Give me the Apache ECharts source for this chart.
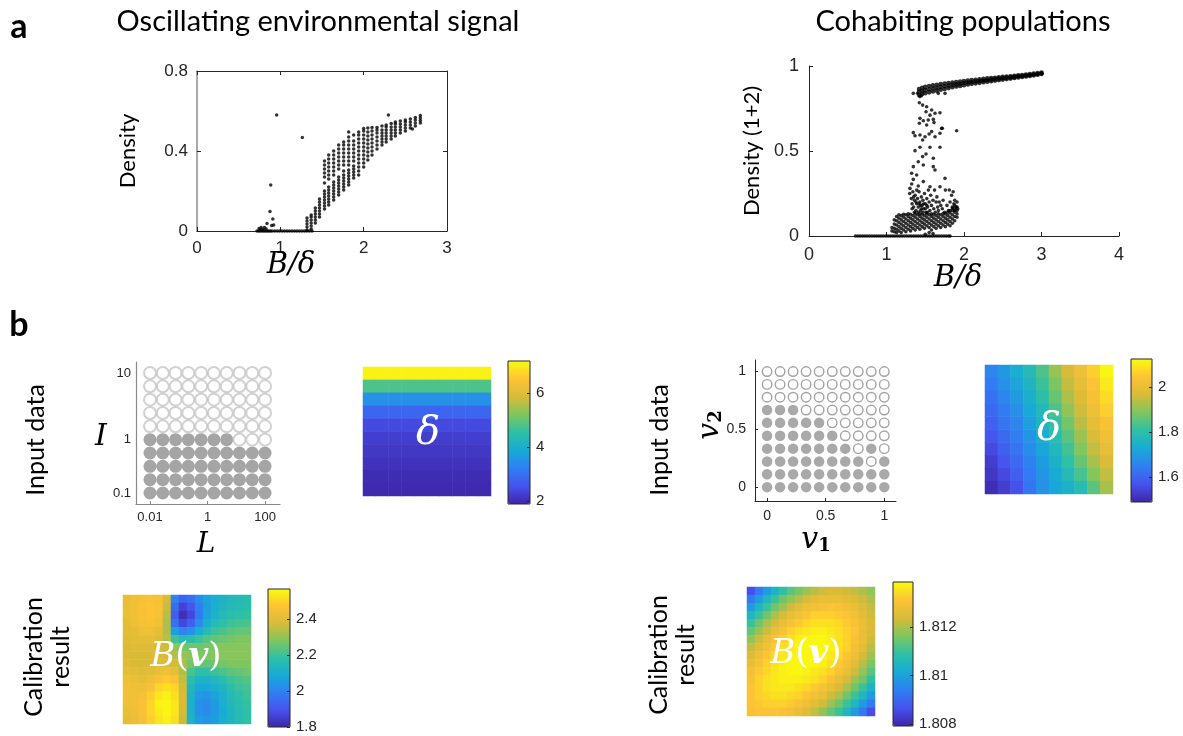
<!DOCTYPE html>
<html><head><meta charset="utf-8">
<script src="https://cdn.jsdelivr.net/npm/echarts@6/dist/echarts.min.js"></script>
<style>html,body{margin:0;padding:0;background:#fff}#c{width:1183px;height:736px}</style>
</head><body><div id="c"></div>
<script>
// ---------------- Panel a (left): oscillating environmental signal ----------------
const leftZeroX = [0.72,0.74,0.76,0.78,0.80,0.82,0.84,0.86,0.88,0.90,0.93,0.96,0.99,1.02,1.05,1.08,1.11,1.14,1.17,1.20,1.23,1.26,1.29,1.32,1.35,1.38];
const leftSparse = [[0.956,0.58],[1.264,0.468],[0.885,0.23],[0.876,0.097],[0.91,0.06],[0.84,0.038],[0.92,0.03],[0.745,0.012],[0.77,0.018],[0.81,0.018],[0.83,0.01],[0.896,0.027],[2.297,0.58],[2.585,0.51],[0.76,0.006],[0.79,0.008]];
const leftStreakX = [1.32,1.37,1.42,1.47,1.53,1.58,1.64,1.70,1.76,1.82,1.88,1.94,2.00,2.05,2.10,2.16,2.22,2.27,2.33,2.38,2.44,2.50,2.56,2.62,2.68];
const leftStreakY = [
  [0.005,0.02,0.035,0.05,0.065],
  [0.01,0.025,0.04,0.055,0.07,0.08],
  [0.04,0.055,0.07,0.085,0.1,0.115],
  [0.07,0.085,0.1,0.115,0.13,0.145,0.16],
  [0.11,0.125,0.14,0.155,0.17,0.185,0.2,0.24,0.27,0.29,0.31,0.33,0.35],
  [0.13,0.145,0.16,0.175,0.19,0.205,0.22,0.26,0.28,0.3,0.32,0.34,0.36,0.38],
  [0.155,0.17,0.185,0.2,0.215,0.23,0.245,0.28,0.3,0.32,0.34,0.36,0.38,0.4],
  [0.18,0.195,0.21,0.225,0.24,0.255,0.27,0.31,0.33,0.35,0.37,0.39,0.41,0.43],
  [0.205,0.22,0.235,0.25,0.265,0.28,0.3,0.33,0.35,0.37,0.39,0.41,0.43,0.445],
  [0.23,0.245,0.26,0.275,0.29,0.305,0.33,0.35,0.37,0.39,0.41,0.43,0.45,0.47,0.495],
  [0.265,0.28,0.295,0.31,0.325,0.35,0.37,0.39,0.41,0.43,0.45,0.48],
  [0.28,0.3,0.32,0.34,0.36,0.38,0.4,0.42,0.44,0.46,0.48,0.495],
  [0.32,0.34,0.36,0.38,0.4,0.42,0.44,0.46,0.48,0.5,0.513],
  [0.355,0.375,0.395,0.415,0.435,0.455,0.475,0.495,0.515],
  [0.38,0.4,0.42,0.44,0.46,0.48,0.5,0.518],
  [0.41,0.43,0.45,0.47,0.49,0.505,0.517],
  [0.43,0.445,0.46,0.475,0.49,0.505,0.525],
  [0.445,0.46,0.475,0.49,0.505,0.52,0.53],
  [0.46,0.475,0.49,0.505,0.52,0.538],
  [0.475,0.49,0.505,0.52,0.535,0.545],
  [0.49,0.505,0.52,0.535,0.55],
  [0.5,0.515,0.53,0.545,0.555],
  [0.515,0.53,0.545,0.56],
  [0.525,0.54,0.555,0.567],
  [0.54,0.552,0.565,0.577]
];

// ---------------- Panel a (right): cohabiting populations ----------------
const rightZeroX = [0.6,0.63,0.66,0.69,0.72,0.75,0.78,0.81,0.84,0.87,0.9,0.93,0.96,0.99,1.02,1.05,1.08,1.11,1.14,1.17,1.2,1.23,1.26,1.29,1.32,1.35,1.38,1.41,1.44,1.47,1.5,1.53,1.56,1.59,1.62,1.65,1.68,1.71,1.74,1.77,1.8,1.82];
const bandX   = [1.42,1.46,1.5,1.55,1.6,1.65,1.7,1.75,1.8,1.85,1.9,1.95,2.0,2.05,2.1,2.15,2.2,2.25,2.3,2.35,2.4,2.45,2.5,2.55,2.6,2.65,2.7,2.75,2.8,2.85,2.9,2.95,3.0];
const bandLo  = [0.83,0.835,0.84,0.845,0.85,0.855,0.86,0.865,0.87,0.875,0.879,0.883,0.887,0.891,0.895,0.898,0.901,0.905,0.908,0.911,0.914,0.917,0.92,0.923,0.926,0.929,0.932,0.935,0.938,0.941,0.945,0.949,0.953];
const bandMid = [0.848,0.853,0.858,0.863,0.868,0.872,0.877,0.881,0.885,0.889,0.892,0.896,0.9,0.903,0.906,0.909,0.912,0.915,0.918,0.92,0.923,0.926,0.928,0.931,0.933,0.936,0.939,0.941,0.944,0.947,0.95,0.953,0.957];
const bandHi  = [0.865,0.872,0.877,0.882,0.886,0.89,0.894,0.897,0.9,0.903,0.906,0.909,0.912,0.914,0.917,0.919,0.922,0.924,0.927,0.929,0.931,0.934,0.936,0.938,0.94,0.943,0.945,0.947,0.95,0.952,0.955,0.958,0.961];
const rightSparse = [[1.40,0.84],[1.43,0.82],[1.45,0.825],[1.346,0.839],[1.668,0.839],[1.755,0.839],[1.424,0.784],[1.466,0.77],[1.518,0.76],[1.51,0.731],[1.583,0.741],[1.626,0.722],[1.69,0.725],[1.561,0.711],[1.432,0.692],[1.475,0.678],[1.539,0.682],[1.604,0.686],[1.424,0.663],[1.518,0.653],[1.613,0.667],[1.712,0.633],[1.905,0.619],[1.346,0.608],[1.432,0.594],[1.368,0.59],[1.466,0.565],[1.497,0.584],[1.583,0.614],[1.626,0.584],[1.69,0.604],[1.72,0.634],[1.55,0.6],[1.368,0.502],[1.432,0.522],[1.561,0.522],[1.69,0.522],[1.466,0.467],[1.51,0.482],[1.604,0.457],[1.346,0.408],[1.41,0.437],[1.475,0.418],[1.604,0.408],[1.626,0.388],[1.325,0.369],[1.389,0.359],[1.346,0.333],[1.475,0.32],[1.755,0.339],[1.325,0.306],[1.41,0.294],[1.561,0.29],[1.69,0.29],[1.81,0.271],[1.303,0.28]];
const rightCloud = [[1.30,0.25],[1.32,0.22],[1.33,0.19],[1.34,0.26],[1.35,0.17],[1.36,0.21],[1.37,0.24],[1.38,0.15],[1.39,0.19],[1.40,0.22],[1.41,0.17],[1.42,0.26],[1.43,0.2],[1.44,0.15],[1.45,0.23],[1.46,0.18],[1.47,0.21],[1.48,0.16],[1.49,0.25],[1.5,0.19],[1.51,0.14],[1.52,0.22],[1.53,0.17],[1.54,0.27],[1.55,0.2],[1.56,0.15],[1.57,0.24],[1.58,0.18],[1.6,0.21],[1.61,0.16],[1.62,0.27],[1.63,0.14],[1.64,0.2],[1.65,0.23],[1.66,0.17],[1.67,0.15],[1.68,0.2],[1.7,0.18],[1.72,0.16],[1.73,0.21],[1.75,0.14],[1.76,0.27],[1.78,0.18],[1.8,0.15],[1.82,0.2],[1.84,0.24],[1.85,0.17],[1.87,0.19],[1.88,0.15],[1.9,0.17],[1.91,0.2],[1.92,0.16],[1.88,0.21],[1.86,0.26],[1.33,0.16],[1.36,0.14],[1.39,0.27],[1.41,0.14],[1.44,0.18],[1.47,0.14],[1.5,0.16],[1.53,0.14],[1.35,0.23],[1.38,0.2],[1.42,0.19],[1.45,0.16],[1.48,0.19],[1.52,0.18],[1.5,0.01],[1.6,0.015],[1.55,0.02]];
const fanX = [1.07,1.10,1.13,1.16,1.19,1.22,1.25,1.28,1.31,1.34,1.37,1.40,1.43,1.46,1.49,1.52,1.55,1.58,1.61,1.64,1.67,1.70,1.73,1.76,1.79,1.82,1.85,1.88,1.91];
const fanY = [
  [0.03,0.05],[0.025,0.045,0.07,0.095],[0.02,0.04,0.065,0.09,0.115],[0.03,0.055,0.08,0.105,0.125],
  [0.02,0.045,0.07,0.095,0.12],[0.035,0.06,0.085,0.11,0.128],[0.025,0.05,0.075,0.1,0.125],[0.04,0.065,0.09,0.115,0.13],
  [0.03,0.055,0.08,0.105,0.128],[0.045,0.07,0.095,0.12],[0.035,0.06,0.085,0.11,0.13],[0.05,0.075,0.1,0.125],
  [0.04,0.065,0.09,0.115,0.13],[0.055,0.08,0.105,0.128],[0.045,0.07,0.095,0.12],[0.06,0.085,0.11,0.13],
  [0.05,0.075,0.1,0.125],[0.035,0.065,0.09,0.115,0.13],[0.055,0.08,0.105,0.128],[0.045,0.07,0.095,0.12],
  [0.06,0.085,0.11,0.13],[0.05,0.075,0.1,0.125],[0.065,0.09,0.115,0.132],[0.055,0.08,0.105,0.13],
  [0.07,0.095,0.12,0.14],[0.06,0.085,0.11,0.135,0.15],[0.075,0.1,0.125,0.15,0.165],[0.09,0.115,0.14,0.16,0.18],[0.11,0.13,0.15,0.17]
];

// ---------------- Panel b: input data grids ----------------
const Lvals = [0.01,0.0278,0.0774,0.215,0.599,1.67,4.64,12.9,35.9,100];
const LTicks = [0.01,1,100];
const ILabels = ['0.1','1','10'];
const ITickIdx = [0,4,9];
// rows: I index from bottom (0.1) to top (10); 1 = filled
const leftFill = [
  [1,1,1,1,1,1,1,1,1,1],
  [1,1,1,1,1,1,1,1,1,1],
  [1,1,1,1,1,1,1,1,1,1],
  [1,1,1,1,1,1,1,1,1,1],
  [1,1,1,1,1,1,1,0,0,0],
  [0,0,0,0,0,0,0,0,0,0],
  [0,0,0,0,0,0,0,0,0,0],
  [0,0,0,0,0,0,0,0,0,0],
  [0,0,0,0,0,0,0,0,0,0],
  [0,0,0,0,0,0,0,0,0,0]
];
const v1Vals = [0,0.111,0.222,0.333,0.444,0.556,0.667,0.778,0.889,1];
const v2Vals = [0,0.111,0.222,0.333,0.444,0.556,0.667,0.778,0.889,1];
const vTicks = [0,0.5,1];
// rows: v2 from 0 (bottom) to 1 (top)
const rightFill = [
  [1,1,1,1,1,1,1,1,1,1],
  [1,1,1,1,1,1,1,1,1,1],
  [1,1,1,1,1,1,1,1,0,1],
  [1,1,1,1,1,1,1,0,1,0],
  [1,1,1,1,1,1,0,0,0,0],
  [1,1,1,1,1,0,0,0,0,0],
  [1,1,1,0,0,0,0,0,0,0],
  [0,0,0,0,0,0,0,0,0,0],
  [0,0,0,0,0,0,0,0,0,0],
  [0,0,0,0,0,0,0,0,0,0]
];

// delta maps (rows top -> bottom)
const deltaLeftRows = [7.08,4.8,3.48,2.84,2.42,2.25,2.15,2.06,1.98,1.95];
const deltaLeftRange = [1.89,7.19], deltaLeftTicks = [2,4,6];
const deltaRight = [
  [1.660,1.692,1.737,1.781,1.838,1.908,1.965,2.010,2.061,2.118],
  [1.641,1.680,1.718,1.762,1.819,1.883,1.946,1.997,2.041,2.099],
  [1.622,1.660,1.699,1.743,1.800,1.864,1.927,1.978,2.029,2.080],
  [1.610,1.641,1.680,1.724,1.775,1.838,1.902,1.959,2.010,2.061],
  [1.591,1.629,1.660,1.705,1.756,1.813,1.876,1.940,1.991,2.035],
  [1.572,1.610,1.648,1.686,1.737,1.794,1.851,1.914,1.972,2.016],
  [1.553,1.591,1.629,1.673,1.718,1.768,1.826,1.889,1.946,1.997],
  [1.533,1.572,1.610,1.654,1.699,1.749,1.807,1.864,1.921,1.972],
  [1.521,1.553,1.591,1.641,1.686,1.730,1.781,1.832,1.889,1.946],
  [1.502,1.533,1.565,1.629,1.680,1.718,1.749,1.787,1.851,1.921]
];
const deltaRightRange = [1.489,2.124], deltaRightTicks = [1.6,1.8,2];

// calibration results B(v) (rows top -> bottom)
const calibLeft = [
  [2.42,2.44,2.45,2.46,2.45,2.38,2.0,1.93,1.96,2.02,2.07,2.1,2.12,2.14,2.15,2.16],
  [2.42,2.44,2.46,2.47,2.46,2.36,1.95,1.86,1.9,1.99,2.06,2.1,2.13,2.15,2.16,2.17],
  [2.42,2.44,2.46,2.47,2.45,2.34,1.92,1.82,1.87,1.98,2.07,2.12,2.15,2.17,2.18,2.19],
  [2.41,2.43,2.45,2.46,2.44,2.33,1.96,1.87,1.92,2.02,2.1,2.15,2.18,2.2,2.21,2.22],
  [2.4,2.41,2.43,2.43,2.41,2.33,2.06,2.0,2.03,2.1,2.16,2.2,2.22,2.24,2.25,2.25],
  [2.39,2.4,2.41,2.41,2.39,2.34,2.2,2.16,2.17,2.2,2.23,2.25,2.26,2.27,2.28,2.28],
  [2.38,2.39,2.39,2.39,2.38,2.36,2.3,2.27,2.26,2.26,2.27,2.28,2.29,2.29,2.29,2.29],
  [2.38,2.38,2.38,2.38,2.38,2.37,2.34,2.31,2.29,2.28,2.28,2.29,2.29,2.29,2.29,2.29],
  [2.39,2.38,2.38,2.38,2.39,2.39,2.37,2.32,2.27,2.25,2.25,2.26,2.27,2.28,2.28,2.28],
  [2.41,2.4,2.39,2.4,2.42,2.43,2.41,2.33,2.22,2.18,2.18,2.2,2.22,2.24,2.25,2.26],
  [2.43,2.42,2.41,2.43,2.46,2.48,2.46,2.35,2.17,2.12,2.12,2.14,2.17,2.2,2.22,2.23],
  [2.44,2.43,2.43,2.46,2.5,2.52,2.5,2.37,2.14,2.08,2.08,2.1,2.13,2.17,2.2,2.21],
  [2.44,2.44,2.45,2.49,2.53,2.55,2.52,2.38,2.12,2.05,2.04,2.07,2.11,2.15,2.18,2.2],
  [2.43,2.44,2.46,2.5,2.55,2.56,2.53,2.38,2.11,2.03,2.02,2.05,2.1,2.14,2.17,2.19],
  [2.42,2.43,2.46,2.5,2.54,2.56,2.53,2.37,2.11,2.03,2.02,2.05,2.09,2.13,2.16,2.18],
  [2.41,2.42,2.45,2.49,2.53,2.55,2.52,2.36,2.12,2.05,2.04,2.06,2.1,2.13,2.16,2.18]
];
const calibLeftRange = [1.8,2.567], calibLeftTicks = [1.8,2,2.2,2.4];
const calibRight = [
  [1.8086,1.8093,1.8099,1.8104,1.8109,1.8113,1.8116,1.8119,1.8121,1.8123,1.8124,1.8124,1.8123,1.8122,1.8120,1.8118],
  [1.8093,1.8099,1.8105,1.8110,1.8115,1.8118,1.8121,1.8124,1.8126,1.8127,1.8127,1.8127,1.8126,1.8125,1.8123,1.8120],
  [1.8099,1.8105,1.8110,1.8115,1.8119,1.8123,1.8126,1.8128,1.8129,1.8130,1.8131,1.8130,1.8129,1.8127,1.8125,1.8122],
  [1.8105,1.8110,1.8115,1.8120,1.8124,1.8127,1.8129,1.8131,1.8133,1.8133,1.8133,1.8132,1.8131,1.8129,1.8126,1.8123],
  [1.8110,1.8115,1.8120,1.8124,1.8127,1.8130,1.8132,1.8134,1.8135,1.8135,1.8135,1.8134,1.8132,1.8130,1.8127,1.8124],
  [1.8114,1.8119,1.8123,1.8127,1.8130,1.8133,1.8135,1.8136,1.8137,1.8137,1.8136,1.8135,1.8133,1.8131,1.8127,1.8124],
  [1.8118,1.8123,1.8127,1.8130,1.8133,1.8135,1.8137,1.8138,1.8138,1.8138,1.8137,1.8135,1.8133,1.8130,1.8127,1.8123],
  [1.8122,1.8126,1.8129,1.8132,1.8135,1.8136,1.8138,1.8138,1.8138,1.8138,1.8137,1.8135,1.8133,1.8129,1.8126,1.8121],
  [1.8125,1.8128,1.8131,1.8134,1.8136,1.8137,1.8138,1.8138,1.8138,1.8138,1.8136,1.8134,1.8131,1.8128,1.8124,1.8119],
  [1.8127,1.8130,1.8133,1.8135,1.8137,1.8138,1.8138,1.8138,1.8138,1.8137,1.8135,1.8132,1.8129,1.8126,1.8121,1.8116],
  [1.8129,1.8132,1.8134,1.8136,1.8137,1.8138,1.8138,1.8137,1.8136,1.8135,1.8133,1.8130,1.8127,1.8123,1.8118,1.8113],
  [1.8130,1.8133,1.8135,1.8136,1.8137,1.8137,1.8137,1.8136,1.8135,1.8133,1.8130,1.8127,1.8124,1.8119,1.8115,1.8109],
  [1.8131,1.8133,1.8135,1.8136,1.8136,1.8136,1.8135,1.8134,1.8132,1.8130,1.8127,1.8124,1.8120,1.8115,1.8110,1.8104],
  [1.8131,1.8133,1.8134,1.8135,1.8135,1.8134,1.8133,1.8131,1.8129,1.8127,1.8123,1.8120,1.8115,1.8110,1.8105,1.8099],
  [1.8131,1.8132,1.8133,1.8133,1.8133,1.8132,1.8130,1.8128,1.8126,1.8123,1.8119,1.8115,1.8110,1.8105,1.8099,1.8093],
  [1.8130,1.8131,1.8131,1.8131,1.8130,1.8129,1.8127,1.8125,1.8122,1.8118,1.8114,1.8110,1.8105,1.8099,1.8093,1.8086]
];
const calibRightRange = [1.80792,1.81386], calibRightTicks = [1.808,1.81,1.812];

// ---------------- build ----------------
const PARULA = ['#3e26a8','#4653ee','#307ff2','#17abd6','#2ec0a5','#7ec660','#d8bb38','#fdc336','#f9fb0e'];
const DARK = '#262626';
const SANS = '"Liberation Sans", Arial, sans-serif';
const CAL = 'Lato, "Open Sans", sans-serif';
const MATH = '"DejaVu Serif", serif';

const leftPts = [];
leftZeroX.forEach(x => leftPts.push([x, 0]));
leftStreakX.forEach((x, i) => leftStreakY[i].forEach(y => leftPts.push([x, y])));
leftSparse.forEach(p => leftPts.push(p));

const rightPts = [];
rightZeroX.forEach(x => rightPts.push([x, 0]));
fanX.forEach((x, i) => fanY[i].forEach(y => rightPts.push([x, y])));
rightSparse.forEach(p => rightPts.push(p));
rightCloud.forEach(p => rightPts.push(p));
const bandPts = [];
bandX.forEach((x, i) => { bandPts.push([x, bandLo[i]]); bandPts.push([x, bandMid[i]]); bandPts.push([x, bandHi[i]]); });

const leftOn = [], leftOff = [];
leftFill.forEach((row, r) => row.forEach((f, c) => (f ? leftOn : leftOff).push([Math.log10(Lvals[c]), r])));
const rightOn = [], rightOff = [];
rightFill.forEach((row, r) => row.forEach((f, c) => (f ? rightOn : rightOff).push([v1Vals[c], v2Vals[r]])));

function matrixData(m) { const d = []; m.forEach((row, r) => row.forEach((v, c) => d.push([c, r, v]))); return d; }
const deltaLeftData = [];
deltaLeftRows.forEach((v, r) => { for (let c = 0; c < 10; c++) deltaLeftData.push([c, r, v]); });
const idx = n => Array.from({length: n}, (_, i) => i);

const gridBox = (l, t, w, h, extra) => Object.assign({left: l, top: t, width: w, height: h, containLabel: false, outerBoundsMode: 'none'}, extra || {});
const cbGrid = {show: true, borderColor: DARK, borderWidth: 1, backgroundColor: 'transparent', z: 6};
const grids = [
  gridBox(197, 71, 250, 160),     // 0 a-left
  gridBox(809, 66, 310, 170),     // 1 a-right
  gridBox(136, 362, 144, 142),    // 2 b-left circles
  gridBox(363, 367, 128, 129),    // 3 delta left
  gridBox(508, 361, 22, 143, cbGrid), // 4 cb
  gridBox(755, 360, 141, 141),    // 5 b-right circles
  gridBox(985, 365, 128, 129),    // 6 delta right
  gridBox(1131, 359, 21, 143, cbGrid), // 7 cb
  gridBox(123, 595, 128, 129),    // 8 calib left
  gridBox(268, 589, 22, 138, cbGrid), // 9 cb
  gridBox(747, 587, 128, 129),    // 10 calib right
  gridBox(893, 582, 20, 144, cbGrid)  // 11 cb
];

const lbl = (size, margin, extra) => Object.assign({fontSize: size, color: DARK, fontFamily: SANS, margin: margin}, extra || {});
const line = (c, w) => ({show: true, onZero: false, lineStyle: {color: c, width: w || 1}});
const tickIn = (c, len, extra) => Object.assign({show: true, inside: true, length: len, lineStyle: {color: c}}, extra || {});
const noSplit = {show: false};
const catHidden = (gi, n, inv) => ({gridIndex: gi, type: 'category', data: idx(n), show: false, inverse: !!inv, boundaryGap: true});
const hiddenVal = gi => ({gridIndex: gi, type: 'value', show: false, min: 0, max: 1});
const cbAxis = (gi, range, ticks) => ({gridIndex: gi, type: 'value', position: 'right', min: range[0], max: range[1], z: 6,
  axisLine: {show: false, onZero: false}, axisTick: tickIn(DARK, 3, {customValues: ticks}), axisLabel: lbl(15, 6, {customValues: ticks}), splitLine: noSplit});
const LTickPos = LTicks.map(Math.log10);

const xAxes = [
  {gridIndex: 0, type: 'value', min: 0, max: 3, interval: 1, axisLine: line(DARK), axisTick: tickIn(DARK, 4), axisLabel: lbl(17, 9), splitLine: noSplit},
  {gridIndex: 0, type: 'value', position: 'top', min: 0, max: 3, interval: 1, axisLine: line(DARK), axisTick: tickIn(DARK, 4), axisLabel: {show: false}, splitLine: noSplit},
  {gridIndex: 1, type: 'value', min: 0, max: 4, interval: 1, axisLine: line(DARK), axisTick: tickIn(DARK, 4), axisLabel: lbl(18, 10), splitLine: noSplit},
  {gridIndex: 2, type: 'value', min: -2.487, max: 2.52, axisLine: line('#8a8a8a', 1.2), axisTick: tickIn('#8a8a8a', 3, {customValues: LTickPos}),
    axisLabel: lbl(13, 7, {customValues: LTickPos, formatter: v => String(LTicks[LTickPos.findIndex(t => Math.abs(t - v) < 1e-6)])}), splitLine: noSplit},
  catHidden(3, 10),
  hiddenVal(4),
  {gridIndex: 5, type: 'value', min: -0.103, max: 1.10, axisLine: line(DARK), axisTick: tickIn(DARK, 3, {customValues: vTicks}), axisLabel: lbl(14, 8, {customValues: vTicks}), splitLine: noSplit},
  catHidden(6, 10),
  hiddenVal(7),
  catHidden(8, 16),
  hiddenVal(9),
  catHidden(10, 16),
  hiddenVal(11)
];
const yAxes = [
  {gridIndex: 0, type: 'value', min: 0, max: 0.8, interval: 0.4, axisLine: line('#8c8c8c', 1.5), axisTick: tickIn(DARK, 4), axisLabel: lbl(17, 9), splitLine: noSplit},
  {gridIndex: 0, type: 'value', position: 'right', min: 0, max: 0.8, interval: 0.4, axisLine: line(DARK), axisTick: tickIn(DARK, 4), axisLabel: {show: false}, splitLine: noSplit},
  {gridIndex: 1, type: 'value', min: 0, max: 1, interval: 0.5, axisLine: line(DARK), axisTick: tickIn(DARK, 4), axisLabel: lbl(18, 10), splitLine: noSplit},
  {gridIndex: 2, type: 'value', min: -0.825, max: 9.825, axisLine: line('#8a8a8a', 1.2), axisTick: {show: false},
    axisLabel: lbl(13, 5, {customValues: ITickIdx, formatter: v => ILabels[ITickIdx.indexOf(Math.round(v))]}), splitLine: noSplit},
  catHidden(3, 10, true),
  cbAxis(4, deltaLeftRange, deltaLeftTicks),
  {gridIndex: 5, type: 'value', min: -0.12, max: 1.10, axisLine: line(DARK), axisTick: tickIn(DARK, 3, {customValues: vTicks}), axisLabel: lbl(14, 9, {customValues: vTicks}), splitLine: noSplit},
  catHidden(6, 10, true),
  cbAxis(7, deltaRightRange, deltaRightTicks),
  catHidden(8, 16, true),
  cbAxis(9, calibLeftRange, calibLeftTicks),
  catHidden(10, 16, true),
  cbAxis(11, calibRightRange, calibRightTicks)
];

const vm = (si, range, g) => ({type: 'continuous', seriesIndex: si, min: range[0], max: range[1], calculable: false, hoverLink: false,
  orient: 'vertical', left: g.left, top: g.top, itemWidth: g.width, itemHeight: g.height, padding: 0, inRange: {color: PARULA}, z: 4});

const series = [
  {type: 'scatter', xAxisIndex: 0, yAxisIndex: 0, data: leftPts, symbolSize: 3.5, itemStyle: {color: '#000'}, silent: true},
  {type: 'scatter', xAxisIndex: 2, yAxisIndex: 2, data: rightPts, symbolSize: 3.6, itemStyle: {color: '#000'}, silent: true},
  {type: 'scatter', xAxisIndex: 3, yAxisIndex: 3, data: leftOn, symbolSize: 13, itemStyle: {color: '#8f8f8f'}, silent: true},
  {type: 'scatter', xAxisIndex: 3, yAxisIndex: 3, data: leftOff, symbolSize: 12, itemStyle: {color: '#fff', borderColor: '#c6c6c6', borderWidth: 2}, silent: true},
  {type: 'heatmap', xAxisIndex: 4, yAxisIndex: 4, data: deltaLeftData, silent: true},
  {type: 'scatter', xAxisIndex: 6, yAxisIndex: 6, data: rightOn, symbolSize: 10.5, itemStyle: {color: '#939393'}, silent: true},
  {type: 'scatter', xAxisIndex: 6, yAxisIndex: 6, data: rightOff, symbolSize: 9.5, itemStyle: {color: '#fff', borderColor: '#8c8c8c', borderWidth: 1.4}, silent: true},
  {type: 'heatmap', xAxisIndex: 7, yAxisIndex: 7, data: matrixData(deltaRight), silent: true},
  {type: 'heatmap', xAxisIndex: 9, yAxisIndex: 9, data: matrixData(calibLeft), silent: true},
  {type: 'heatmap', xAxisIndex: 11, yAxisIndex: 11, data: matrixData(calibRight), silent: true},
  {type: 'scatter', xAxisIndex: 2, yAxisIndex: 2, data: bandPts, symbolSize: 4.6, itemStyle: {color: '#000'}, silent: true}
];

const T = (x, y, text, font, extra) => Object.assign({type: 'text', x: x, y: y, z: 100, silent: true,
  style: Object.assign({text: text, font: font, fill: '#000', align: 'center', verticalAlign: 'middle', textAlign: 'center', textVerticalAlign: 'middle'}, (extra && extra.style) || {})},
  extra ? {rotation: extra.rotation || 0} : {});
const R90 = Math.PI / 2;
const bvRich = {i: {fontFamily: MATH, fontStyle: 'italic', fontSize: 34, fill: '#fff', color: '#fff'},
  n: {fontFamily: MATH, fontSize: 34, fill: '#fff', color: '#fff'},
  b: {fontFamily: MATH, fontStyle: 'italic', fontWeight: 'bold', fontSize: 34, fill: '#fff', color: '#fff'}};
const vRich = {v: {fontFamily: MATH, fontStyle: 'italic', fontSize: 30, fill: '#000', color: '#000'},
  s: {fontFamily: MATH, fontWeight: 'bold', fontSize: 18, fill: '#000', color: '#000', verticalAlign: 'bottom', padding: [12, 0, 0, 0]}};

const graphic = [
  T(19, 27, 'a', 'bold 34px ' + CAL),
  T(19, 325, 'b', 'bold 34px ' + CAL),
  T(318, 22, 'Oscillating environmental signal', '29px ' + CAL),
  T(963, 22, 'Cohabiting populations', '29px ' + CAL),
  T(128, 151, 'Density', '22px ' + CAL, {rotation: R90}),
  T(752, 151, 'Density (1+2)', '22px ' + CAL, {rotation: R90}),
  T(291, 265, 'B/δ', 'italic 29px ' + MATH),
  T(958, 278, 'B/δ', 'italic 29px ' + MATH),
  T(36, 440, 'Input data', '25px ' + CAL, {rotation: R90}),
  T(660, 440, 'Input data', '25px ' + CAL, {rotation: R90}),
  T(47, 657, 'Calibration\nresult', '25px ' + CAL, {rotation: R90, style: {lineHeight: 27}}),
  T(672, 655, 'Calibration\nresult', '25px ' + CAL, {rotation: R90, style: {lineHeight: 27}}),
  T(101, 437, 'I', 'italic 30px ' + MATH),
  T(206, 545, 'L', 'italic 28px ' + MATH),
  T(710, 425, '{v|v}{s|2}', '30px ' + MATH, {rotation: R90, style: {rich: vRich}}),
  T(816, 540, '{v|v}{s|1}', '30px ' + MATH, {style: {rich: vRich}}),
  T(428, 434, 'δ', 'italic 40px ' + MATH, {style: {fill: '#fff'}}),
  T(1049, 430, 'δ', 'italic 40px ' + MATH, {style: {fill: '#fff'}}),
  T(186, 657, '{i|B}{n|(}{b|v}{n|)}', '34px ' + MATH, {style: {rich: bvRich}}),
  T(806, 654, '{i|B}{n|(}{b|v}{n|)}', '34px ' + MATH, {style: {rich: bvRich}})
];

const chart = echarts.init(document.getElementById('c'), null, {renderer: 'canvas', width: 1183, height: 736});
chart.setOption({
  animation: false,
  backgroundColor: '#fff',
  grid: grids,
  xAxis: xAxes,
  yAxis: yAxes,
  visualMap: [
    vm(4, deltaLeftRange, grids[4]),
    vm(7, deltaRightRange, grids[7]),
    vm(8, calibLeftRange, grids[9]),
    vm(9, calibRightRange, grids[11])
  ],
  series: series,
  graphic: graphic
});
</script></body></html>
